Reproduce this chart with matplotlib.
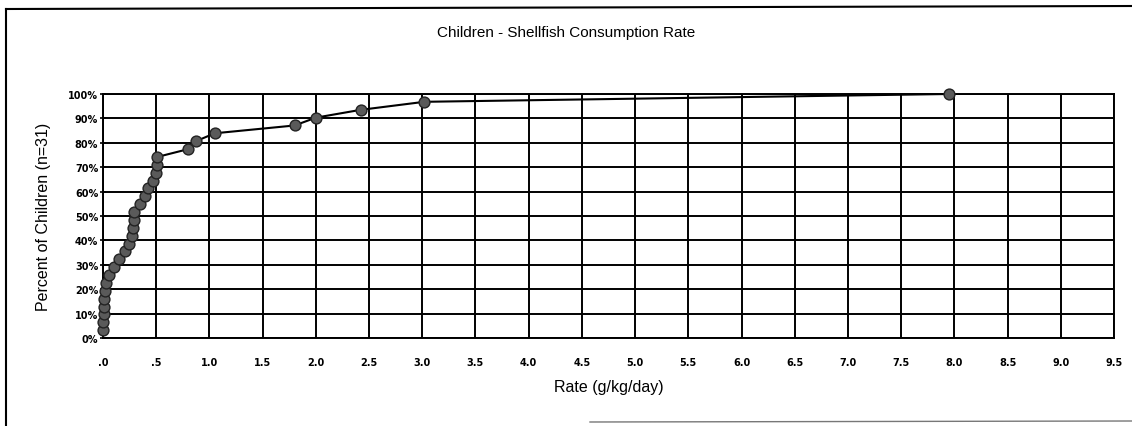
import numpy as np
import matplotlib
matplotlib.use('Agg')
import matplotlib.pyplot as plt
from matplotlib.lines import Line2D

# cumulative distribution (31 children)
rate = [0.00, 0.00, 0.01, 0.01, 0.01, 0.02, 0.03, 0.06, 0.10, 0.15, 0.21,
        0.24, 0.27, 0.28, 0.29, 0.29, 0.35, 0.39, 0.42, 0.47, 0.50, 0.51,
        0.51, 0.80, 0.87, 1.05, 1.80, 2.00, 2.42, 3.02, 7.95]
pct = [0.032, 0.065, 0.097, 0.129, 0.161, 0.194, 0.226, 0.258, 0.290, 0.323,
       0.355, 0.387, 0.419, 0.452, 0.484, 0.516, 0.548, 0.581, 0.613, 0.645,
       0.677, 0.710, 0.742, 0.774, 0.806, 0.839, 0.871, 0.903, 0.935, 0.968,
       1.000]

x_ticks = [0.0, 0.5, 1.0, 1.5, 2.0, 2.5, 3.0, 3.5, 4.0, 4.5, 5.0, 5.5, 6.0,
           6.5, 7.0, 7.5, 8.0, 8.5, 9.0, 9.5]
x_labels = ['.0', '.5', '1.0', '1.5', '2.0', '2.5', '3.0', '3.5', '4.0', '4.5',
            '5.0', '5.5', '6.0', '6.5', '7.0', '7.5', '8.0', '8.5', '9.0', '9.5']
y_ticks = [0.0, 0.1, 0.2, 0.3, 0.4, 0.5, 0.6, 0.7, 0.8, 0.9, 1.0]
y_labels = ['0%', '10%', '20%', '30%', '40%', '50%', '60%', '70%', '80%',
            '90%', '100%']

W, H = 1132, 427
fig = plt.figure(figsize=(W/100, H/100), dpi=100)
fig.patch.set_facecolor('white')

ax = fig.add_axes([103/W, 1-339/H, (1114-103)/W, (339-95)/H])
ax.plot(rate, pct, color='black', lw=1.5, marker='o', ms=7.8,
        mfc='#5a5a5a', mec='#222222', mew=1.0, zorder=3, clip_on=False)

ax.set_xlim(0, 9.5)
ax.set_ylim(0, 1)
ax.set_xticks(x_ticks)
ax.set_xticklabels(x_labels, fontsize=7, fontweight='bold')
ax.set_yticks(y_ticks)
ax.set_yticklabels(y_labels, fontsize=7, fontweight='bold')
ax.tick_params(axis='x', length=0, pad=14)
ax.tick_params(axis='y', direction='inout', length=5, width=1.2, pad=1)
ax.grid(True, color='black', lw=1.4)
for s in ax.spines.values():
    s.set_color('black')
    s.set_linewidth(1.4)

ax.set_xlabel('Rate (g/kg/day)', fontsize=11.5, family='Liberation Sans', labelpad=8)
ax.set_ylabel('Percent of Children (n=31)', fontsize=11.5, family='Liberation Sans', labelpad=12)
fig.text(566/W, 1-33/H, 'Children - Shellfish Consumption Rate', fontsize=11,
         family='Liberation Sans', ha='center', va='center')

# outer chart frame as it shows in the scan
fig.add_artist(Line2D([6/W, 6/W], [0, 1-10/H], color='black', lw=1.5))
fig.add_artist(Line2D([6/W, 1], [1-10/H, 1-7/H], color='black', lw=1.5))
fig.add_artist(Line2D([590/W, 1], [1-423/H, 1-422/H], color='#777777', lw=1.0))

fig.savefig('out.png', dpi=100)
